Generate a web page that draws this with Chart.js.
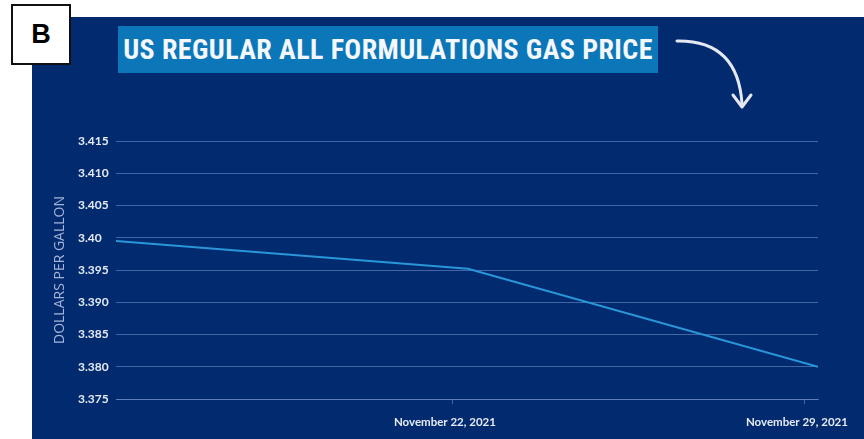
<!DOCTYPE html>
<html>
<head>
<meta charset="utf-8">
<script src="https://cdn.jsdelivr.net/npm/chart.js@4"></script>
<style>
	html, body {
		margin: 0;
		padding: 0;
		background: #ffffff;
	}
	#wrap {
		position: relative;
		width: 864px;
		height: 439px;
		overflow: hidden;
	}
	#panel {
		position: absolute;
		left: 32px;
		top: 17px;
		right: 0;
		bottom: 0;
		background: #022a6f;
	}
	#chart {
		position: absolute;
		left: 0;
		top: 0;
	}
	#title {
		position: absolute;
		left: 118px;
		top: 26px;
		width: 540px;
		height: 47px;
		line-height: 47px;
		background: #0b76b8;
		color: #f4f7fb;
		font-family: "Liberation Sans Narrow", "Roboto Condensed", Arial, sans-serif;
		font-weight: bold;
		font-size: 28px;
		text-align: center;
		letter-spacing: 0.4px;
	}
	#tag {
		position: absolute;
		left: 11px;
		top: 4px;
		width: 56px;
		height: 57px;
		background: #ffffff;
		border: 2px solid #111111;
		font-family: "Liberation Sans Narrow", Arial, sans-serif;
		font-weight: bold;
		font-size: 27px;
		line-height: 57px;
		text-align: center;
		color: #000000;
	}
	#arrow {
		position: absolute;
		left: 0;
		top: 0;
	}
</style>
</head>
<body>
<div id="wrap">
	<div id="panel"></div>
	<!-- canvas a bit wider than the page so the last date label keeps the plot edge at 818 -->
	<canvas id="chart" width="869" height="439"></canvas>
	<div id="title">US REGULAR ALL FORMULATIONS GAS PRICE</div>
	<svg id="arrow" width="864" height="439">
		<path d="M677,41 Q738,40 742,104" fill="none" stroke="#e4e8f0" stroke-width="3" stroke-linecap="round"/>
		<path d="M733,95 L742,107 L751,95" fill="none" stroke="#e4e8f0" stroke-width="3" stroke-linecap="round" stroke-linejoin="round"/>
	</svg>
	<div id="tag">B</div>
</div>

<script>
// weekly readings (day of November 2021)
const days = [15.3, 22.3, 29.26];
const prices = [3.3995, 3.3952, 3.38];

// axis ticks
const xTickValues = [22, 29];
const xTickLabels = ["November 22, 2021", "November 29, 2021"];
const yTickValues = [3.375, 3.38, 3.385, 3.39, 3.395, 3.4, 3.405, 3.41, 3.415];
const yTickLabels = ["3.375", "3.380", "3.385", "3.390", "3.395", "3.40", "3.405", "3.410", "3.415"];
const yTitle = "DOLLARS PER GALLON";

window.addEventListener("load", e => {
	drawChart();
});

// Draws the y axis title left of the tick labels
const yTitlePlugin = {
	id: "yTitle",
	afterDraw(chart) {
		const ctx = chart.ctx;
		const area = chart.chartArea;
		ctx.save();
		ctx.translate(60, (area.top + area.bottom) / 2);
		ctx.rotate(-Math.PI / 2);
		ctx.font = "14px 'Open Sans'";
		ctx.fillStyle = "#a3b4d8";
		ctx.textAlign = "center";
		ctx.textBaseline = "middle";
		ctx.fillText(yTitle, 0, 0);
		ctx.restore();
	},
};

function drawChart() {
	const points = days.map((d, i) => ({ x: d, y: prices[i] }));
	const gridColor = "rgba(120, 150, 205, 0.55)";

	const ctx = document.getElementById("chart").getContext("2d");
	new Chart(ctx, {
		type: "line",
		data: {
			datasets: [
				{
					data: points,
					borderColor: "#2a96da",
					borderWidth: 2,
					pointRadius: 0,
					tension: 0,
				},
			],
		},
		plugins: [yTitlePlugin],
		options: {
			responsive: false,
			animation: false,
			layout: {
				padding: { left: 78, top: 141, right: 51, bottom: 0 },
			},
			plugins: {
				legend: { display: false },
				tooltip: { enabled: false },
			},
			scales: {
				x: {
					type: "linear",
					min: days[0],
					max: days[days.length - 1],
					afterBuildTicks: axis => {
						axis.ticks = xTickValues.map(v => ({ value: v }));
					},
					afterFit: axis => {
						axis.height = 40;
					},
					grid: {
						drawOnChartArea: false,
						drawTicks: true,
						tickLength: 5,
						color: gridColor,
					},
					border: { display: true, color: gridColor, width: 1 },
					ticks: {
						padding: 11,
						labelOffset: -8,
						maxRotation: 0,
						autoSkip: false,
						color: "#e6ebf5",
						font: { family: "Lato", weight: "bold", size: 11.5 },
						callback: (value, index) => xTickLabels[index],
					},
				},
				y: {
					min: 3.375,
					max: 3.415,
					afterBuildTicks: axis => {
						axis.ticks = yTickValues.map(v => ({ value: v }));
					},
					afterFit: axis => {
						axis.width = 38;
					},
					grid: {
						drawTicks: false,
						color: gridColor,
					},
					border: { display: false },
					ticks: {
						crossAlign: "far",
						color: "#e6ebf5",
						font: { family: "Lato", weight: "bold", size: 12 },
						callback: (value, index) => yTickLabels[index],
					},
				},
			},
		},
	});
}
</script>
</body>
</html>
